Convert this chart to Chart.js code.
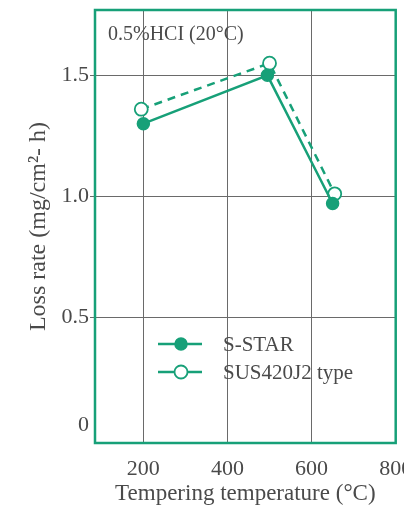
<!DOCTYPE html>
<html>
<head>
<meta charset="utf-8">
<script src="https://cdn.jsdelivr.net/npm/chart.js@4"></script>
<style>
  html, body { margin: 0; padding: 0; background: #fff; overflow: hidden; }
  #wrap { width: 404px; height: 511px; }
</style>
</head>
<body>
<div id="wrap"><canvas id="loss_chart" width="404" height="511"></canvas></div>
<script>
// values
const seriesNames = ["S-STAR", "SUS420J2 type"];
const sstarTemps = [200, 495, 650];
const sstarLoss = [1.30, 1.50, 0.97];
const susTemps = [195, 500, 655];
const susLoss = [1.36, 1.55, 1.01];
const xTicks = [200, 400, 600, 800];
const yTicks = [0, 0.5, 1.0, 1.5];
const noteText = "0.5%HCI (20\u00B0C)";

const GREEN = "#17a078";
const TEXT = "#4a4a4a";
const SERIF = "'Liberation Serif', 'DejaVu Serif', serif";

/** pairs two arrays into {x, y} points */
function toPoints(xs, ys) {
    return xs.map((x, i) => ({ x: x, y: ys[i] }));
}

// green frame round the plot, drawn after the grid
const framePlugin = {
    id: "frame",
    beforeDatasetsDraw(chart) {
        const { ctx, chartArea: a } = chart;
        ctx.save();
        ctx.strokeStyle = GREEN;
        ctx.lineWidth = 2.5;
        ctx.strokeRect(a.left, a.top, a.right - a.left, a.bottom - a.top);
        ctx.restore();
    }
};

// note text and the legend inside the plot
const notesPlugin = {
    id: "notes",
    afterDatasetsDraw(chart) {
        const ctx = chart.ctx;
        ctx.save();
        ctx.fillStyle = TEXT;
        ctx.font = "20px " + SERIF;
        ctx.textBaseline = "middle";
        ctx.textAlign = "left";
        ctx.fillText(noteText, 108, 35);

        const rows = [344, 372];
        chart.data.datasets.forEach((ds, i) => {
            const y = rows[i];
            ctx.strokeStyle = ds.borderColor;
            ctx.lineWidth = 2.5;
            ctx.setLineDash([]);
            ctx.beginPath();
            ctx.moveTo(158, y);
            ctx.lineTo(202, y);
            ctx.stroke();
            ctx.beginPath();
            ctx.arc(181, y, ds.pointRadius, 0, Math.PI * 2);
            ctx.fillStyle = ds.pointBackgroundColor;
            ctx.fill();
            ctx.lineWidth = ds.pointBorderWidth;
            ctx.strokeStyle = ds.pointBorderColor;
            ctx.stroke();
            ctx.fillStyle = TEXT;
            ctx.font = "21px " + SERIF;
            ctx.fillText(ds.label, 223, y + 1);
        });
        ctx.restore();
    }
};

const chart = new Chart(document.getElementById("loss_chart"), {
    type: "line",
    data: {
        datasets: [{
            label: seriesNames[0],
            data: toPoints(sstarTemps, sstarLoss),
            borderColor: GREEN,
            borderWidth: 2.5,
            pointRadius: 6,
            pointBackgroundColor: GREEN,
            pointBorderColor: GREEN,
            pointBorderWidth: 1.5,
            clip: false
        }, {
            label: seriesNames[1],
            data: toPoints(susTemps, susLoss),
            borderColor: GREEN,
            borderWidth: 2.5,
            borderDash: [8, 6],
            pointRadius: 6.5,
            pointBackgroundColor: "#ffffff",
            pointBorderColor: GREEN,
            pointBorderWidth: 1.8,
            clip: false
        }]
    },
    options: {
        responsive: false,
        animation: false,
        layout: { padding: { top: 10, right: 7, left: 0, bottom: 0 } },
        plugins: {
            legend: { display: false },
            tooltip: { enabled: false }
        },
        scales: {
            x: {
                type: "linear",
                min: 85,
                max: 800,
                afterBuildTicks: s => { s.ticks = xTicks.map(v => ({ value: v })); },
                afterFit: s => { s.height = 68; s.paddingLeft = 0; s.paddingRight = 0; },
                border: { display: false },
                grid: {
                    color: c => c.tick && c.tick.value === 800 ? "rgba(0,0,0,0)" : "#6a6a6a",
                    lineWidth: 1,
                    drawTicks: false
                },
                ticks: {
                    padding: 13,
                    color: TEXT,
                    font: { family: SERIF, size: 22 },
                    maxRotation: 0,
                    autoSkip: false,
                    callback: v => String(v)
                },
                title: {
                    display: true,
                    text: "Tempering temperature (\u00B0C)",
                    color: TEXT,
                    font: { family: SERIF, size: 23 },
                    padding: { top: 0, bottom: 3 }
                }
            },
            y: {
                min: -0.02,
                max: 1.77,
                afterBuildTicks: s => { s.ticks = yTicks.map(v => ({ value: v })); },
                afterFit: s => { s.width = 95; s.paddingTop = 0; s.paddingBottom = 0; },
                border: { display: false },
                grid: {
                    color: c => c.tick && c.tick.value === 0 ? "rgba(0,0,0,0)" : "#6a6a6a",
                    lineWidth: 1,
                    drawTicks: true,
                    tickLength: 5
                },
                ticks: {
                    padding: 1,
                    color: TEXT,
                    font: { family: SERIF, size: 22 },
                    // the zero label sits a little above the axis in the original
                    callback: v => v === 0 ? ["0", ""] : v.toFixed(1)
                },
                title: {
                    display: true,
                    text: "Loss rate (mg/cm\u00B2- h)",
                    color: TEXT,
                    font: { family: SERIF, size: 24 },
                    padding: { top: 24, bottom: 0 }
                }
            }
        }
    },
    plugins: [framePlugin, notesPlugin]
});
</script>
</body>
</html>
